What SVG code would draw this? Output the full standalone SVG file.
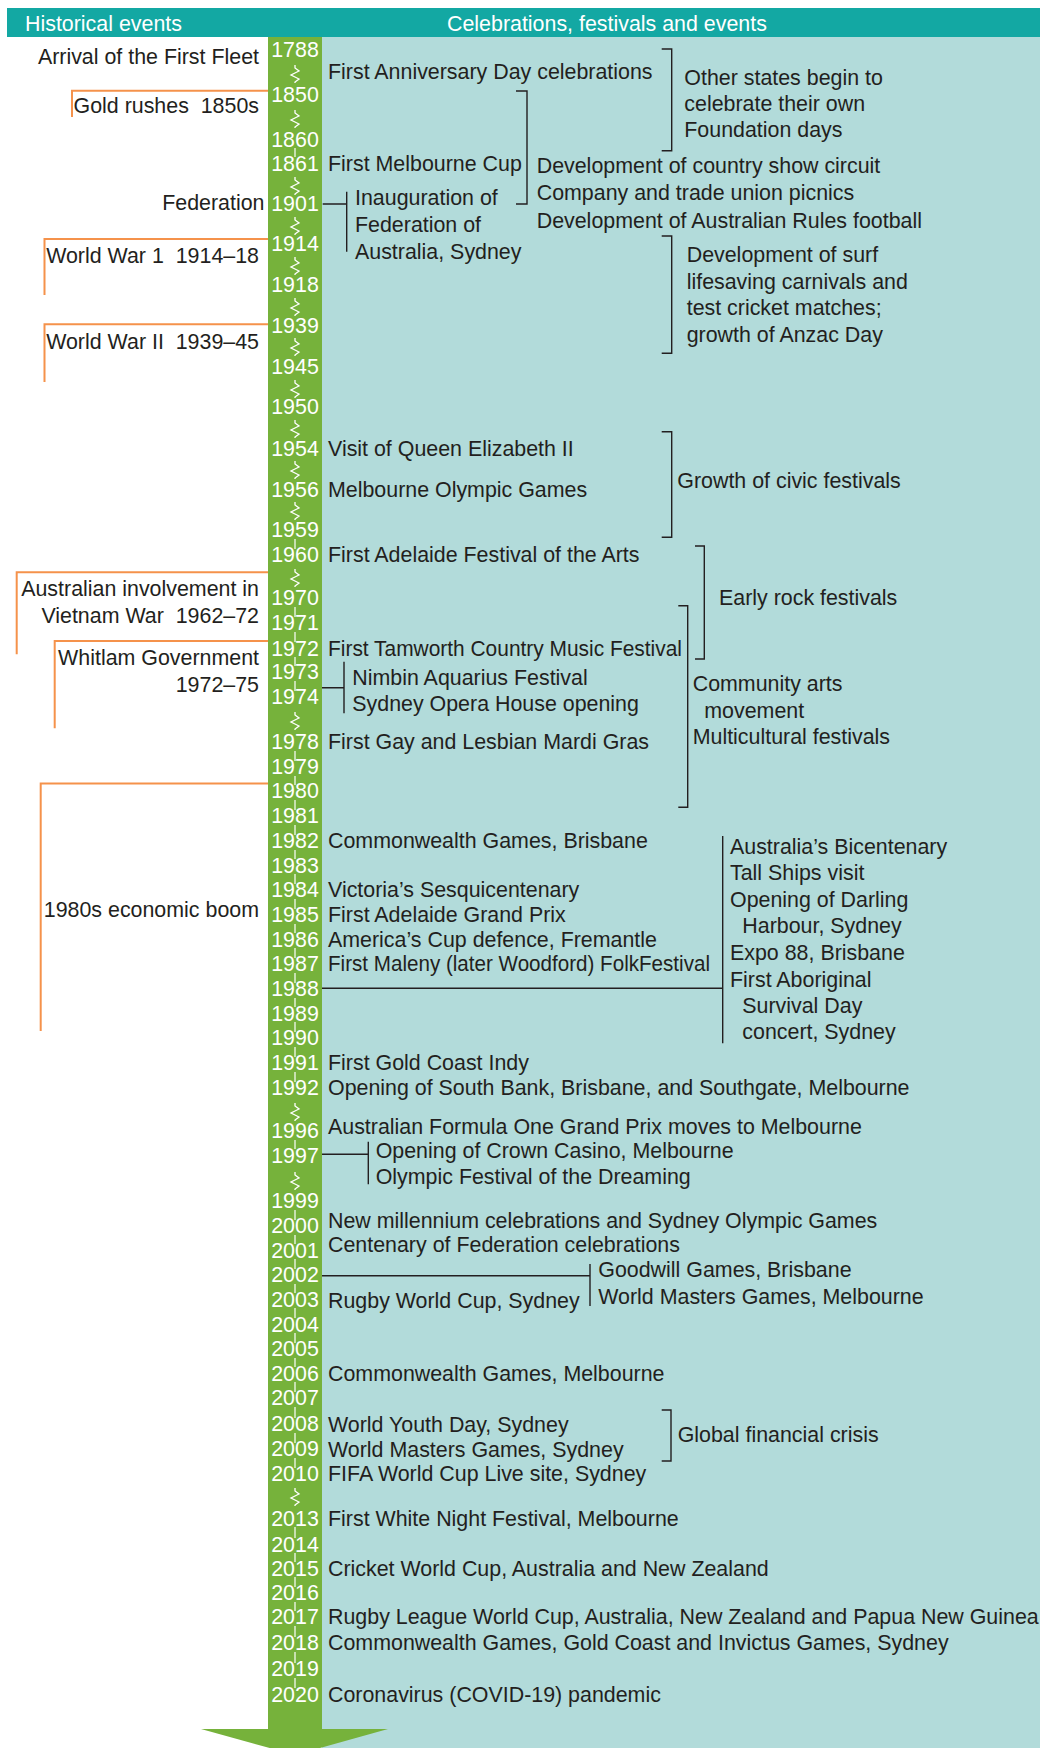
<svg xmlns="http://www.w3.org/2000/svg" xmlns:xlink="http://www.w3.org/1999/xlink" width="1040" height="1748" viewBox="0 0 1040 1748">
<style>
text{font-family:"Liberation Sans",Arial,Helvetica,sans-serif;font-size:21.4px;fill:#231F20}
.hd{fill:#FFFFFF;font-size:21.4px}
.yr{fill:#FFFFFF;text-anchor:middle}
.hist{text-anchor:end}
.or{fill:none;stroke:#F5924B;stroke-width:2}
.br{fill:none;stroke:#231F20;stroke-width:1.4}
.tk{stroke:#FFFFFF;stroke-width:1.2}
.sq{fill:none;stroke:#FFFFFF;stroke-width:1.3;stroke-linejoin:miter}
</style>
<defs>
<path id="sq" class="sq" d="M0,0 v3 l4,3 l-8,4 l8,4 l-4,3 v1"/>
</defs>
<rect width="1040" height="1748" fill="#FFFFFF"/>
<g id="panel">
<rect x="322" y="37" width="718" height="1711" fill="#B2DBDA"/>
</g>
<g id="header">
<rect x="7" y="8" width="1033" height="29" fill="#13A8A3"/>
<text class="hd" x="25" y="31">Historical events</text>
<text class="hd" x="447" y="31">Celebrations, festivals and events</text>
</g>
<g id="timeline">
<rect x="268" y="37" width="54" height="1693" fill="#76B23B"/>
<polygon points="201,1729 388,1729 295,1755" fill="#76B23B"/>
</g>
<g id="breaks">
<use xlink:href="#sq" x="295" y="65"/>
<use xlink:href="#sq" x="295" y="110"/>
<use xlink:href="#sq" x="295" y="177"/>
<use xlink:href="#sq" x="295" y="217"/>
<use xlink:href="#sq" x="295" y="257"/>
<use xlink:href="#sq" x="295" y="298"/>
<use xlink:href="#sq" x="295" y="338"/>
<use xlink:href="#sq" x="295" y="380"/>
<use xlink:href="#sq" x="295" y="420"/>
<use xlink:href="#sq" x="295" y="461"/>
<use xlink:href="#sq" x="295" y="502"/>
<use xlink:href="#sq" x="295" y="569"/>
<use xlink:href="#sq" x="295" y="712"/>
<use xlink:href="#sq" x="295" y="1103"/>
<use xlink:href="#sq" x="295" y="1172"/>
<use xlink:href="#sq" x="295" y="1488"/>
</g>
<g id="ticks" class="tk">
<line x1="295" y1="148" x2="295" y2="157"/>
<line x1="295" y1="539" x2="295" y2="549"/>
<line x1="295" y1="607" x2="295" y2="617"/>
<line x1="295" y1="632" x2="295" y2="642"/>
<line x1="295" y1="657" x2="295" y2="666"/>
<line x1="295" y1="681" x2="295" y2="691"/>
<line x1="295" y1="751" x2="295" y2="761"/>
<line x1="295" y1="776" x2="295" y2="785"/>
<line x1="295" y1="800" x2="295" y2="810"/>
<line x1="295" y1="825" x2="295" y2="835"/>
<line x1="295" y1="850" x2="295" y2="859"/>
<line x1="295" y1="874" x2="295" y2="884"/>
<line x1="295" y1="899" x2="295" y2="909"/>
<line x1="295" y1="924" x2="295" y2="933"/>
<line x1="295" y1="948" x2="295" y2="958"/>
<line x1="295" y1="973" x2="295" y2="983"/>
<line x1="295" y1="998" x2="295" y2="1007"/>
<line x1="295" y1="1022" x2="295" y2="1032"/>
<line x1="295" y1="1047" x2="295" y2="1057"/>
<line x1="295" y1="1072" x2="295" y2="1082"/>
<line x1="295" y1="1140" x2="295" y2="1149"/>
<line x1="295" y1="1210" x2="295" y2="1220"/>
<line x1="295" y1="1235" x2="295" y2="1244"/>
<line x1="295" y1="1259" x2="295" y2="1269"/>
<line x1="295" y1="1284" x2="295" y2="1293"/>
<line x1="295" y1="1308" x2="295" y2="1318"/>
<line x1="295" y1="1333" x2="295" y2="1343"/>
<line x1="295" y1="1358" x2="295" y2="1367"/>
<line x1="295" y1="1382" x2="295" y2="1392"/>
<line x1="295" y1="1407" x2="295" y2="1418"/>
<line x1="295" y1="1433" x2="295" y2="1443"/>
<line x1="295" y1="1458" x2="295" y2="1468"/>
<line x1="295" y1="1527" x2="295" y2="1538"/>
<line x1="295" y1="1553" x2="295" y2="1562"/>
<line x1="295" y1="1577" x2="295" y2="1587"/>
<line x1="295" y1="1602" x2="295" y2="1611"/>
<line x1="295" y1="1626" x2="295" y2="1637"/>
<line x1="295" y1="1652" x2="295" y2="1663"/>
<line x1="295" y1="1678" x2="295" y2="1688"/>
</g>
<g id="years">
<text class="yr" x="295" y="56.5">1788</text>
<text class="yr" x="295" y="102">1850</text>
<text class="yr" x="295" y="147">1860</text>
<text class="yr" x="295" y="170.5">1861</text>
<text class="yr" x="295" y="210.5">1901</text>
<text class="yr" x="295" y="251">1914</text>
<text class="yr" x="295" y="292">1918</text>
<text class="yr" x="295" y="333.3">1939</text>
<text class="yr" x="295" y="374.3">1945</text>
<text class="yr" x="295" y="414.3">1950</text>
<text class="yr" x="295" y="455.7">1954</text>
<text class="yr" x="295" y="496.7">1956</text>
<text class="yr" x="295" y="537.3">1959</text>
<text class="yr" x="295" y="562.3">1960</text>
<text class="yr" x="295" y="605.3">1970</text>
<text class="yr" x="295" y="630">1971</text>
<text class="yr" x="295" y="655.7">1972</text>
<text class="yr" x="295" y="679.3">1973</text>
<text class="yr" x="295" y="704">1974</text>
<text class="yr" x="295" y="749.3">1978</text>
<text class="yr" x="295" y="774.3">1979</text>
<text class="yr" x="295" y="798.3">1980</text>
<text class="yr" x="295" y="823.3">1981</text>
<text class="yr" x="295" y="848">1982</text>
<text class="yr" x="295" y="872.7">1983</text>
<text class="yr" x="295" y="897.3">1984</text>
<text class="yr" x="295" y="922">1985</text>
<text class="yr" x="295" y="946.7">1986</text>
<text class="yr" x="295" y="971.3">1987</text>
<text class="yr" x="295" y="996">1988</text>
<text class="yr" x="295" y="1020.7">1989</text>
<text class="yr" x="295" y="1045">1990</text>
<text class="yr" x="295" y="1070">1991</text>
<text class="yr" x="295" y="1095">1992</text>
<text class="yr" x="295" y="1138.3">1996</text>
<text class="yr" x="295" y="1162.7">1997</text>
<text class="yr" x="295" y="1208.3">1999</text>
<text class="yr" x="295" y="1233.3">2000</text>
<text class="yr" x="295" y="1257.7">2001</text>
<text class="yr" x="295" y="1282.3">2002</text>
<text class="yr" x="295" y="1306.7">2003</text>
<text class="yr" x="295" y="1331.7">2004</text>
<text class="yr" x="295" y="1356">2005</text>
<text class="yr" x="295" y="1380.7">2006</text>
<text class="yr" x="295" y="1405">2007</text>
<text class="yr" x="295" y="1431">2008</text>
<text class="yr" x="295" y="1456">2009</text>
<text class="yr" x="295" y="1481">2010</text>
<text class="yr" x="295" y="1525.7">2013</text>
<text class="yr" x="295" y="1551.7">2014</text>
<text class="yr" x="295" y="1575.7">2015</text>
<text class="yr" x="295" y="1600">2016</text>
<text class="yr" x="295" y="1624.3">2017</text>
<text class="yr" x="295" y="1650">2018</text>
<text class="yr" x="295" y="1676">2019</text>
<text class="yr" x="295" y="1701.7">2020</text>
</g>
<g id="connectors">
<path class="or" d="M268,90.7 H72 V117"/>
<path class="or" d="M268,239 H44.5 V295"/>
<path class="or" d="M268,324.3 H44.5 V382"/>
<path class="or" d="M268,572.3 H16.7 V654.3"/>
<path class="or" d="M268,641 H54.7 V728.3"/>
<path class="or" d="M268,783.5 H40.7 V1031"/>
<path class="br" d="M322.7,204 H346.7 M346.7,191.7 V251.7"/>
<path class="br" d="M516,91 H527 V204 H516"/>
<path class="br" d="M661.7,49 H671.7 V150.7 H661.7"/>
<path class="br" d="M661.7,236 H671.7 V353.3 H661.7"/>
<path class="br" d="M661.7,431.7 H671.7 V537.3 H661.7"/>
<path class="br" d="M695,546 H704.3 V659 H695"/>
<path class="br" d="M678.3,605.7 H687.7 V807.3 H678.3"/>
<path class="br" d="M322,687.7 H344 M344,661.7 V713.3"/>
<path class="br" d="M322,988.3 H722.7 M722.7,836 V1043.3"/>
<path class="br" d="M322,1154.3 H368.3 M368.3,1141.7 V1184.3"/>
<path class="br" d="M322,1275.7 H590 M590,1264 V1306"/>
<path class="br" d="M661.7,1410 H671 V1461 H661.7"/>
</g>
<g id="historical-events">
<text class="hist" x="259" y="64">Arrival of the First Fleet</text>
<text class="hist" x="259" y="113" xml:space="preserve">Gold rushes  1850s</text>
<text class="hist" x="264.5" y="210">Federation</text>
<text class="hist" x="259" y="263.3" xml:space="preserve">World War 1  1914–18</text>
<text class="hist" x="259" y="349.3" xml:space="preserve">World War II  1939–45</text>
<text class="hist" x="259" y="595.7">Australian involvement in</text>
<text class="hist" x="259" y="622.7" xml:space="preserve">Vietnam War  1962–72</text>
<text class="hist" x="259" y="665">Whitlam Government</text>
<text class="hist" x="259" y="691.7">1972–75</text>
<text class="hist" x="259" y="917">1980s economic boom</text>
</g>
<g id="celebrations">
<text x="328" y="78.7">First Anniversary Day celebrations</text>
<text x="684.3" y="85">Other states begin to</text>
<text x="684.3" y="111">celebrate their own</text>
<text x="684.3" y="137.3">Foundation days</text>
<text x="328" y="170.5">First Melbourne Cup</text>
<text x="536.7" y="173">Development of country show circuit</text>
<text x="536.7" y="200">Company and trade union picnics</text>
<text x="536.7" y="227.7">Development of Australian Rules football</text>
<text x="355" y="204.7">Inauguration of</text>
<text x="355" y="232">Federation of</text>
<text x="355" y="258.7">Australia, Sydney</text>
<text x="686.7" y="262.3">Development of surf</text>
<text x="686.7" y="289">lifesaving carnivals and</text>
<text x="686.7" y="315">test cricket matches;</text>
<text x="686.7" y="341.7">growth of Anzac Day</text>
<text x="328" y="455.7">Visit of Queen Elizabeth II</text>
<text x="328" y="496.7">Melbourne Olympic Games</text>
<text x="677.3" y="488.3">Growth of civic festivals</text>
<text x="328" y="562.3">First Adelaide Festival of the Arts</text>
<text x="719" y="605">Early rock festivals</text>
<text x="328" y="655.7" textLength="354" lengthAdjust="spacingAndGlyphs">First Tamworth Country Music Festival</text>
<text x="352.3" y="685">Nimbin Aquarius Festival</text>
<text x="352.3" y="711">Sydney Opera House opening</text>
<text x="692.7" y="691">Community arts</text>
<text x="704.3" y="717.7">movement</text>
<text x="692.7" y="744.3">Multicultural festivals</text>
<text x="328" y="749.3">First Gay and Lesbian Mardi Gras</text>
<text x="328" y="848">Commonwealth Games, Brisbane</text>
<text x="328" y="897.3">Victoria’s Sesquicentenary</text>
<text x="328" y="922">First Adelaide Grand Prix</text>
<text x="328" y="946.7">America’s Cup defence, Fremantle</text>
<text x="328" y="971.3" textLength="382" lengthAdjust="spacingAndGlyphs">First Maleny (later Woodford) FolkFestival</text>
<text x="730" y="854">Australia’s Bicentenary</text>
<text x="730" y="880">Tall Ships visit</text>
<text x="730" y="907.3">Opening of Darling</text>
<text x="742.3" y="933.3">Harbour, Sydney</text>
<text x="730" y="960">Expo 88, Brisbane</text>
<text x="730" y="986.7">First Aboriginal</text>
<text x="742.3" y="1013.3">Survival Day</text>
<text x="742.3" y="1039.3">concert, Sydney</text>
<text x="328" y="1070">First Gold Coast Indy</text>
<text x="328" y="1095">Opening of South Bank, Brisbane, and Southgate, Melbourne</text>
<text x="328" y="1134">Australian Formula One Grand Prix moves to Melbourne</text>
<text x="375.7" y="1157.7">Opening of Crown Casino, Melbourne</text>
<text x="375.7" y="1184.3">Olympic Festival of the Dreaming</text>
<text x="328" y="1228.3">New millennium celebrations and Sydney Olympic Games</text>
<text x="328" y="1251.7">Centenary of Federation celebrations</text>
<text x="598.3" y="1277.3">Goodwill Games, Brisbane</text>
<text x="598.3" y="1304.3">World Masters Games, Melbourne</text>
<text x="328" y="1308.3">Rugby World Cup, Sydney</text>
<text x="328" y="1381">Commonwealth Games, Melbourne</text>
<text x="328" y="1431.7">World Youth Day, Sydney</text>
<text x="328" y="1457.3">World Masters Games, Sydney</text>
<text x="328" y="1481">FIFA World Cup Live site, Sydney</text>
<text x="677.7" y="1441.7">Global financial crisis</text>
<text x="328" y="1525.7">First White Night Festival, Melbourne</text>
<text x="328" y="1575.7">Cricket World Cup, Australia and New Zealand</text>
<text x="328" y="1624.3">Rugby League World Cup, Australia, New Zealand and Papua New Guinea</text>
<text x="328" y="1650">Commonwealth Games, Gold Coast and Invictus Games, Sydney</text>
<text x="328" y="1701.7">Coronavirus (COVID-19) pandemic</text>
</g>
</svg>
